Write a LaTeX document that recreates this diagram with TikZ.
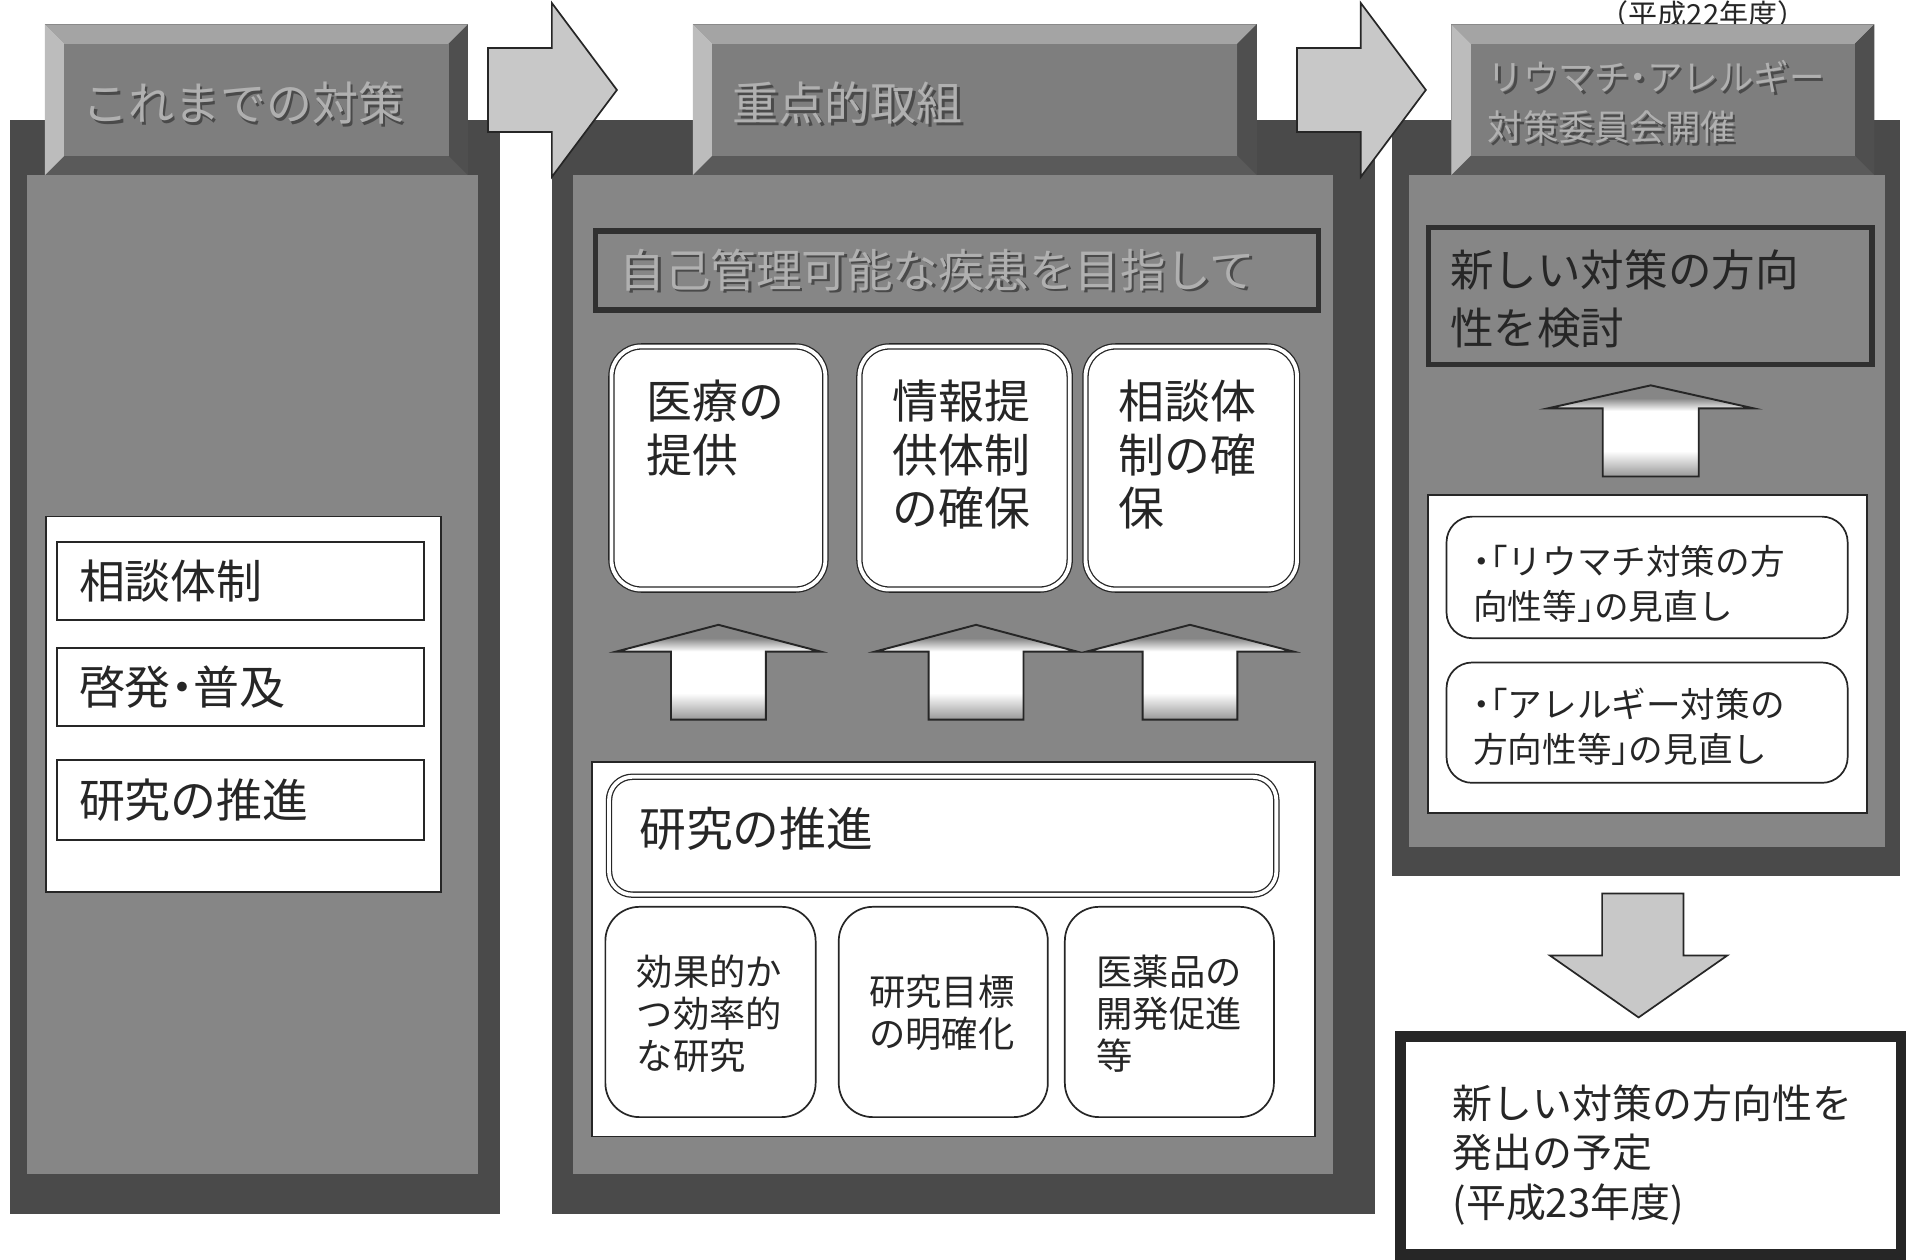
\documentclass[tikz,border=0pt]{standalone}
\usepackage{fontspec}
\setmainfont{Noto Sans CJK JP}
\usetikzlibrary{fit}
\definecolor{frame}{HTML}{4A4A4A}
\definecolor{pgray}{HTML}{868686}
\definecolor{face}{HTML}{7E7E7E}
\definecolor{bevT}{HTML}{A4A4A4}
\definecolor{bevL}{HTML}{BCBCBC}
\definecolor{bevR}{HTML}{4F4F4F}
\definecolor{bevB}{HTML}{5A5A5A}
\definecolor{arrfill}{HTML}{C8C8C8}
\definecolor{ink}{HTML}{262626}
\definecolor{dkline}{HTML}{303030}
\definecolor{emblight}{HTML}{B0B0B0}
\definecolor{embdark}{HTML}{4A4A4A}
\pgfdeclareverticalshading{upshade}{100bp}{color(0bp)=(pgray); color(25bp)=(pgray!85!white); color(39bp)=(white); color(61bp)=(white); color(68bp)=(pgray); color(100bp)=(pgray)}
\newcommand{\jfs}[2]{\fontsize{#1pt}{#2pt}\selectfont}
\newcommand{\emb}[1]{\makebox[0pt][l]{\textcolor{embdark}{\hspace{1.1pt}\raisebox{-1.1pt}{#1}}}\textcolor{emblight}{#1}}
\newcommand{\hdot}{\makebox[0.5em][c]{・}}
\newcommand{\hlb}{\makebox[0.5em][r]{「}}
\newcommand{\hrb}{\makebox[0.5em][l]{」}}
\newcommand{\bevelbox}[5]{%
  \fill[bevB] (#1,#2) rectangle (#3,#4);
  \fill[bevT] (#1,#2) -- (#3,#2) -- (#3-16,#2+16) -- (#1+16,#2+16) -- cycle;
  \fill[bevL] (#1,#2) -- (#1+16,#2+16) -- (#1+16,#4-16) -- (#1,#4) -- cycle;
  \fill[bevR] (#3,#2) -- (#3,#4) -- (#3-16,#4-16) -- (#3-16,#2+16) -- cycle;
  \node[fitbox, fill=face, fit={(#1+16,#2+16)(#3-16,#4-16)}] (#5) {};
}
\newcommand{\uparrowshape}[6]{%
  \path[uparr] (#1,#2) -- (#1+#5,#3) -- (#1+#6,#3) -- (#1+#6,#4) -- (#1-#6,#4) -- (#1-#6,#3) -- (#1-#5,#3) -- cycle;
}
\begin{document}
\begin{tikzpicture}[x=0.02cm, y=-0.02cm,
  fitbox/.style={inner sep=0pt, outer sep=0pt},
  darkframe/.style={fitbox, fill=frame},
  panel/.style={fitbox, fill=pgray},
  wpanel/.style={fitbox, fill=white, draw=ink, line width=0.8pt},
  sqbox/.style={fitbox, fill=white, draw=ink, line width=0.9pt},
  dblbox/.style={fitbox, fill=white, draw=ink, line width=0.6pt, double=white, double distance=1.8pt, rounded corners=#1},
  rbox/.style={fitbox, fill=white, draw=ink, line width=0.8pt, rounded corners=#1},
  dkbox/.style={fitbox, fill=pgray, draw=dkline, line width=2.4pt},
  txt/.style={inner sep=0pt, outer sep=0pt, text=ink, anchor=west, align=left},
  uparr/.style={shade, shading=upshade, draw=ink, line width=0.9pt, line join=miter},
  sidearr/.style={fill=arrfill, draw=ink, line width=0.8pt, line join=miter}]
\useasboundingbox (0,0) rectangle (1568,1036);
\clip (0,0) rectangle (1568,1036);
\fill[white] (0,0) rectangle (1568,1036);

% year label
\node[inner sep=0pt, text=ink, anchor=north, font=\jfs{13.6}{16}] (year22) at (1401,0.5) {（平成22年度）};

% ---------- left column ----------
\node[darkframe, fit={(8,99)(411,999)}] (lframe) {};
\node[panel, fit={(22,144)(393,966)}] (lpanel) {};
\bevelbox{37}{20}{385}{144}{lhead}
\node[txt, font=\jfs{21.5}{25}] (lheadt) at (68,86) {\emb{これまでの対策}};
\node[wpanel, fit={(38,425)(363,734)}] (lwhite) {};
\node[sqbox, fit={(47,446)(349,510)}] (lb1) {};
\node[sqbox, fit={(47,533)(349,597)}] (lb2) {};
\node[sqbox, fit={(47,625)(349,691)}] (lb3) {};
\node[txt, font=\jfs{21.5}{25}] (lb1t) at (65,478) {相談体制};
\node[txt, font=\jfs{21.5}{25}] (lb2t) at (65,565) {啓発\hdot 普及};
\node[txt, font=\jfs{21.5}{25}] (lb3t) at (65,658) {研究の推進};

% ---------- middle column ----------
\node[darkframe, fit={(454,99)(1131,999)}] (mframe) {};
\node[panel, fit={(471,144)(1097,966)}] (mpanel) {};
\bevelbox{570}{20}{1034}{144}{mhead}
\node[txt, font=\jfs{21.5}{25}] (mheadt) at (603,86) {\emb{重点的取組}};
\node[dkbox, fit={(490,190)(1085,255)}] (goal) {};
\node[txt, font=\jfs{21.3}{25}] (goalt) at (510,223) {\emb{自己管理可能な疾患を目指して}};

\node[dblbox=14pt, fit={(503,285)(679,485)}] (t1) {};
\node[dblbox=14pt, fit={(707,285)(880,485)}] (t2) {};
\node[dblbox=14pt, fit={(893,285)(1067,485)}] (t3) {};
\node[txt, font=\jfs{21.5}{25}] (t1t) at (532,352) {医療の\\提供};
\node[txt, font=\jfs{21.5}{25}] (t2t) at (734,374) {情報提\\供体制\\の確保};
\node[txt, font=\jfs{21.5}{25}] (t3t) at (920,374) {相談体\\制の確\\保};

\uparrowshape{591}{514}{536}{592}{84}{39}
\uparrowshape{803}{514}{536}{592}{83}{39}
\uparrowshape{979}{514}{536}{592}{85}{39}

\node[wpanel, fit={(487,627)(1082,935)}] (mwhite) {};
\node[dblbox=11pt, fit={(501,639)(1050,736)}] (res) {};
\node[txt, font=\jfs{21.9}{25}] (rest) at (526,682) {研究の推進};
\node[rbox=16pt, fit={(498,746)(671,919)}] (r1) {};
\node[rbox=16pt, fit={(690,746)(862,919)}] (r2) {};
\node[rbox=16pt, fit={(876,746)(1048,919)}] (r3) {};
\node[txt, font=\jfs{17}{19.8}] (r1t) at (524,834) {効果的か\\つ効率的\\な研究};
\node[txt, font=\jfs{17}{19.8}] (r2t) at (715,833) {研究目標\\の明確化};
\node[txt, font=\jfs{17}{19.8}] (r3t) at (902,834) {医薬品の\\開発促進\\等};

% ---------- right column ----------
\node[darkframe, fit={(1145,99)(1563,721)}] (rframe) {};
\node[panel, fit={(1159,144)(1551,697)}] (rpanel) {};
\bevelbox{1194}{20}{1542}{144}{rhead}
\node[txt, font=\jfs{16.6}{23.5}] (rheadt) at (1224,85) {\emb{リウマチ\hdot アレルギー}\\\emb{対策委員会開催}};
\node[dkbox, fit={(1175,187)(1540,300)}] (study) {};
\node[txt, font=\jfs{20.4}{27.2}] (studyt) at (1193,246) {新しい対策の方向\\性を検討};
\uparrowshape{1358}{317}{336}{392}{85}{39.5}
\node[wpanel, fit={(1175,407)(1536,669)}] (rwhite) {};
\node[rbox=12pt, fit={(1190,425)(1520,525)}] (rv1) {};
\node[rbox=12pt, fit={(1190,545)(1520,644)}] (rv2) {};
\node[txt, font=\jfs{16.2}{21}] (rv1t) at (1212,480) {\hdot\hlb リウマチ対策の方\\向性等\hrb の見直し};
\node[txt, font=\jfs{16.2}{21}] (rv2t) at (1212,598) {\hdot\hlb アレルギー対策の\\方向性等\hrb の見直し};

% down arrow
\path[sidearr] (1318,735) -- (1385,735) -- (1385,786) -- (1421,786) -- (1348,837) -- (1275,786) -- (1318,786) -- cycle;

% final box
\node[fitbox, fill=white, draw=ink, line width=5.1pt, fit={(1152,853)(1564,1032)}] (final) {};
\node[txt, font=\jfs{18.7}{23.2}] (finalt) at (1195,950) {新しい対策の方向性を\\発出の予定\\(平成23年度)};

% side arrows between columns
\path[sidearr] (401.5,39.5) -- (454,39.5) -- (454,2.5) -- (507.5,74) -- (454,145.5) -- (454,108.5) -- (401.5,108.5) -- cycle;
\path[sidearr] (1067,39.5) -- (1119.5,39.5) -- (1119.5,2.5) -- (1173,74) -- (1119.5,145.5) -- (1119.5,108.5) -- (1067,108.5) -- cycle;
\end{tikzpicture}
\end{document}
